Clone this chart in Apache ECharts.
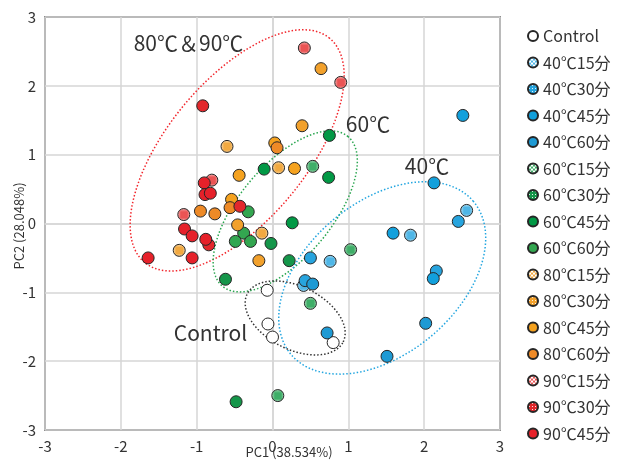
<!DOCTYPE html>
<html>
<head>
<meta charset="utf-8">
<script src="https://cdn.jsdelivr.net/npm/echarts@6/dist/echarts.min.js"></script>
<style>
html, body { margin: 0; padding: 0; background: #fff; }
#main { width: 617px; height: 460px; }
</style>
</head>
<body>
<div id="main"></div>
<script>
// PCA scores (PC1, PC2) for each heat treatment
const control   = [[-0.07, -0.97], [-0.06, -1.46], [0.00, -1.65], [0.80, -1.73]];
const t40m15    = [[0.76, -0.55], [1.82, -0.17], [2.56, 0.19], [0.41, -0.90]];
const t40m30    = [[0.50, -0.50], [0.43, -0.83], [2.45, 0.03], [2.16, -0.69]];
const t40m45    = [[2.51, 1.57], [2.13, 0.59], [1.59, -0.14], [2.12, -0.80]];
const t40m60    = [[0.53, -0.88], [0.72, -1.59], [2.02, -1.45], [1.51, -1.93]];
const t60m15    = [[0.53, 0.83], [1.03, -0.38], [0.50, -1.16], [0.07, -2.50]];
const t60m30    = [[-0.02, -0.29], [0.22, -0.54], [-0.62, -0.81], [-0.48, -2.59]];
const t60m45    = [[-0.11, 0.79], [0.75, 1.28], [0.74, 0.67], [0.26, 0.01]];
const t60m60    = [[-0.32, 0.17], [-0.38, -0.14], [-0.49, -0.26], [-0.29, -0.26]];
const t80m15    = [[-0.60, 1.12], [0.08, 0.81], [-0.14, -0.14], [-1.23, -0.39]];
const t80m30    = [[0.64, 2.25], [0.39, 1.42], [-0.46, -0.02], [-0.18, -0.54]];
const t80m45    = [[0.03, 1.17], [0.29, 0.80], [-0.44, 0.70], [-0.54, 0.35]];
const t80m60    = [[0.06, 1.10], [-0.56, 0.23], [-0.95, 0.18], [-0.76, 0.14]];
const t90m15    = [[0.42, 2.55], [0.90, 2.05], [-0.80, 0.63], [-1.17, 0.13]];
const t90m30    = [[-0.92, 1.71], [-0.43, 0.25], [-0.84, -0.31]];
const t90m45    = [[-0.90, 0.59], [-0.89, 0.42], [-0.82, 0.44], [-1.16, -0.08],
                   [-1.06, -0.18], [-0.88, -0.23], [-1.64, -0.50], [-1.06, -0.50]];

const groupNames = ['Control', '40℃15分', '40℃30分', '40℃45分', '40℃60分',
  '60℃15分', '60℃30分', '60℃45分', '60℃60分',
  '80℃15分', '80℃30分', '80℃45分', '80℃60分',
  '90℃15分', '90℃30分', '90℃45分'];
const groupData = [control, t40m15, t40m30, t40m45, t40m60,
  t60m15, t60m30, t60m45, t60m60,
  t80m15, t80m30, t80m45, t80m60,
  t90m15, t90m30, t90m45];

// Grouping ellipses: centre (PC1, PC2), semi-axes in PC1 units, tilt in degrees
const ellipseNames = ['80℃&90℃', '60℃', '40℃', 'Control'];
const ellipseCenters = [[-0.466, 1.062], [0.168, 0.176], [1.447, -0.791], [0.299, -1.372]];
const ellipseAxes = [[1.917, 0.921], [1.288, 0.610], [1.570, 1.003], [0.707, 0.416]];
const ellipseTilt = [50.5, 50, 40, -26.5];

// Group captions placed in data space
const noteTexts = ['80℃＆90℃', '60℃', '40℃', 'Control'];
const notePos = [[-1.108, 2.621], [1.259, 1.448], [2.037, 0.837], [-0.818, -1.594]];

const axisTicks = { min: -3, max: 3, interval: 1 };

const FONT = '"Noto Sans CJK JP", "Noto Sans", sans-serif';

// Fill patterns for the 15- and 30-minute groups
function lightHatch(color) {
  const c = document.createElement('canvas');
  c.width = 4; c.height = 4;
  const g = c.getContext('2d');
  g.fillStyle = '#ffffff';
  g.fillRect(0, 0, 4, 4);
  g.fillStyle = color;
  for (let i = 0; i < 4; i++) {
    g.fillRect(i, i, 1, 1);
    g.fillRect(3 - i, i, 1, 1);
  }
  return { image: c, repeat: 'repeat' };
}
function dotGrid(color) {
  const c = document.createElement('canvas');
  c.width = 3; c.height = 3;
  const g = c.getContext('2d');
  g.fillStyle = color;
  g.fillRect(0, 0, 3, 3);
  g.fillStyle = 'rgba(255,255,255,0.85)';
  g.fillRect(1, 1, 1, 1);
  return { image: c, repeat: 'repeat' };
}

const fills = [
  '#ffffff',
  lightHatch('#4fb6e6'), dotGrid('#27a4de'), '#12a0dc', '#1e9ad4',
  lightHatch('#3fae68'), dotGrid('#15964a'), '#019945', '#33a650',
  lightHatch('#f1a941'), dotGrid('#f2a12c'), '#f5a21f', '#ee8a27',
  lightHatch('#ea5454'), dotGrid('#e2282c'), '#e6212a'
];

const ellipseColors = ['#f2262c', '#2aa650', '#23a6e0', '#333333'];

const scatterSeries = groupNames.map((name, i) => ({
  name: name,
  type: 'scatter',
  data: groupData[i],
  symbol: 'circle',
  symbolSize: 12,
  z: 3,
  itemStyle: { color: fills[i], borderColor: '#262626', borderWidth: 1, opacity: 1 },
  emphasis: { disabled: true }
}));

const ellipseSeries = {
  type: 'custom',
  name: 'groups',
  z: 2,
  silent: true,
  data: ellipseCenters.map((c, i) => [c[0], c[1], ellipseAxes[i][0], ellipseAxes[i][1], ellipseTilt[i]]),
  encode: { x: 0, y: 1 },
  renderItem: function (params, api) {
    const c = api.coord([api.value(0), api.value(1)]);
    const u = api.size([1, 0])[0];
    const a = api.value(2) * u, b = api.value(3) * u;
    const th = api.value(4) * Math.PI / 180;
    const pts = [];
    for (let k = 0; k <= 180; k++) {
      const t = k / 180 * Math.PI * 2;
      const ex = a * Math.cos(t), ey = b * Math.sin(t);
      pts.push([c[0] + ex * Math.cos(th) - ey * Math.sin(th),
                c[1] - (ex * Math.sin(th) + ey * Math.cos(th))]);
    }
    return {
      type: 'polygon',
      shape: { points: pts },
      style: { fill: 'none', stroke: ellipseColors[params.dataIndex], lineWidth: 1.5, lineDash: [1.5, 2] }
    };
  }
};

const noteSeries = {
  type: 'custom',
  name: 'notes',
  z: 4,
  silent: true,
  data: notePos,
  encode: { x: 0, y: 1 },
  renderItem: function (params, api) {
    const c = api.coord([api.value(0), api.value(1)]);
    return {
      type: 'text',
      x: c[0], y: c[1],
      style: {
        text: noteTexts[params.dataIndex],
        fontSize: 21, fontFamily: FONT, fill: '#333',
        align: 'center', verticalAlign: 'middle'
      }
    };
  }
};

const chart = echarts.init(document.getElementById('main'), null, { renderer: 'canvas' });
chart.setOption({
  animation: false,
  backgroundColor: '#ffffff',
  grid: {
    left: 45, top: 17, right: 117, bottom: 30,
    show: true, borderColor: '#3a3a3a', borderWidth: 1.5, backgroundColor: 'transparent'
  },
  legend: {
    orient: 'vertical',
    left: 527, top: 28,
    padding: 0,
    data: groupNames,
    icon: 'circle',
    itemWidth: 10, itemHeight: 10,
    itemGap: 10.5,
    selectedMode: false,
    textStyle: { fontFamily: FONT, fontSize: 16, color: '#333' }
  },
  xAxis: {
    type: 'value',
    min: axisTicks.min, max: axisTicks.max, interval: axisTicks.interval,
    axisLine: { onZero: true, lineStyle: { color: '#d6d6d6', width: 1.5 } },
    axisTick: { show: false },
    axisLabel: { fontFamily: FONT, fontSize: 15, color: '#333', margin: 9 },
    splitLine: { lineStyle: { color: '#d6d6d6', width: 1.5 } }
  },
  yAxis: {
    type: 'value',
    min: axisTicks.min, max: axisTicks.max, interval: axisTicks.interval,
    axisLine: { onZero: true, lineStyle: { color: '#d6d6d6', width: 1.5 } },
    axisTick: { show: false },
    axisLabel: { fontFamily: FONT, fontSize: 15, color: '#333', margin: 9 },
    splitLine: { lineStyle: { color: '#d6d6d6', width: 1.5 } }
  },
  graphic: [
    {
      type: 'text', x: 289, y: 452,
      style: { text: 'PC1 (38.534%)', fontFamily: FONT, fontSize: 13, fill: '#333', align: 'center', verticalAlign: 'middle' }
    },
    {
      type: 'text', x: 19, y: 226, rotation: Math.PI / 2,
      style: { text: 'PC2 (28.048%)', fontFamily: FONT, fontSize: 13, fill: '#333', align: 'center', verticalAlign: 'middle' }
    }
  ],
  series: [ellipseSeries].concat(scatterSeries, [noteSeries])
});
</script>
</body>
</html>
